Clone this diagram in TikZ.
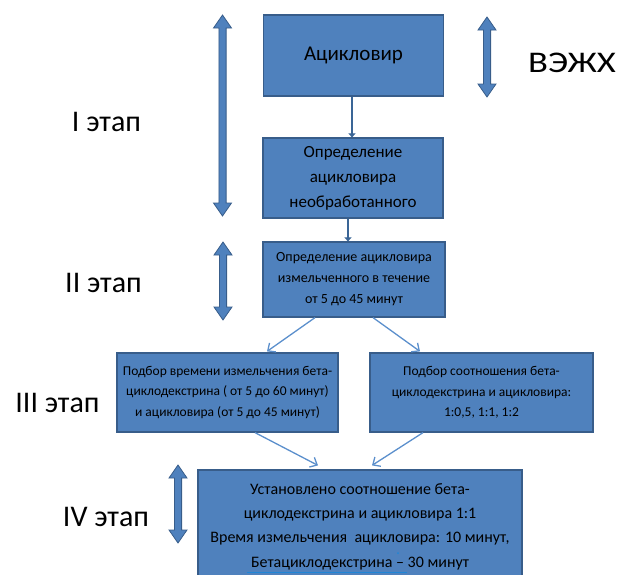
\documentclass[tikz,border=0pt]{standalone}
\usepackage{fontspec}
\setmainfont{Carlito}
\usetikzlibrary{arrows.meta}
\definecolor{boxfill}{HTML}{4F81BD}
\definecolor{boxline}{HTML}{385D8A}
\definecolor{stemblue}{HTML}{3A6596}
\definecolor{linkblue}{HTML}{5B8FCC}
\definecolor{markblue}{HTML}{1F86D6}
\tikzset{
  stagebox/.style={draw=boxline, line width=1.2pt, fill=boxfill, align=center,
    text=black, inner sep=2pt},
  stagelabel/.style={font=\fontsize{30}{36}\selectfont, text=black},
  dblarrow/.style={fill=boxfill, draw=boxline, line width=0.8pt, line join=miter},
  stem/.style={draw=stemblue, line width=2.6pt, -{Triangle[length=4pt,width=7pt]}},
  link/.style={draw=linkblue, line width=1.3pt, -{Straight Barb[length=6pt,width=11pt]}}
}
% vertical double-headed block arrow: x, top y, bottom y
\newcommand\vdarrow[3]{%
  \filldraw[dblarrow] (#1,#2) -- (#1+9,#2+13) -- (#1+3.6,#2+13) -- (#1+3.6,#3-13)
    -- (#1+9,#3-13) -- (#1,#3) -- (#1-9,#3-13) -- (#1-3.6,#3-13)
    -- (#1-3.6,#2+13) -- (#1-9,#2+13) -- cycle;}
\begin{document}
\begin{tikzpicture}[x=1pt,y=-1pt]
\useasboundingbox (0,0) rectangle (618,574);
\clip (0,0) rectangle (618,574);

% process boxes
\node[stagebox, minimum width=180pt, minimum height=81pt,
  font=\fontsize{21}{25}\selectfont] (acv) at (353.5,55.5) {Ацикловир};
\node[stagebox, minimum width=180pt, minimum height=80pt,
  font=\fontsize{17}{25}\selectfont] (raw) at (353,178)
  {Определение\\ацикловира\\необработанного};
\node[stagebox, minimum width=182pt, minimum height=75pt,
  font=\fontsize{14}{21}\selectfont] (milled) at (354,279.5)
  {Определение ацикловира\\измельченного в течение\\от 5 до 45 минут};
\node[stagebox, minimum width=221pt, minimum height=79pt,
  font=\fontsize{13.5}{20.5}\selectfont] (time) at (227.5,392.5)
  {Подбор времени измельчения бета-\\циклодекстрина ( от 5 до 60 минут)\\и ацикловира (от 5 до 45 минут)};
\node[stagebox, minimum width=223pt, minimum height=79pt,
  font=\fontsize{13.5}{20.5}\selectfont] (ratio) at (481.5,392.5)
  {Подбор соотношения бета-\\циклодекстрина и ацикловира:\\1:0,5, 1:1, 1:2};
\node[stagebox, minimum width=324pt, minimum height=113pt,
  font=\fontsize{16}{24.3}\selectfont] (result) at (360,526.5)
  {Установлено соотношение бета-\\циклодекстрина и ацикловира 1:1\\Время измельчения~ ацикловира: 10 минут,\\Бетациклодекстрина – 30 минут};

% spell-check marks under the last line
\draw[markblue, line width=1.6pt] (247,572.5) -- (407,572.5);
\fill[markblue] (398,553) circle (1pt);

% connectors
\draw[stem] ([xshift=-1.5pt]acv.south) -- ([xshift=-1pt]raw.north);
\draw[stem] ([xshift=-5pt]raw.south) -- ([xshift=-6pt]milled.north);
\draw[link] ([xshift=-39pt]milled.south) -- ([xshift=39.5pt,yshift=1pt]time.north);
\draw[link] ([xshift=19pt]milled.south) -- ([xshift=-61.5pt,yshift=1pt]ratio.north);
\draw[link] ([xshift=27.5pt]time.south) -- ([xshift=-42pt,yshift=4pt]result.north);
\draw[link] ([xshift=-58.5pt]ratio.south) -- ([xshift=12pt,yshift=4pt]result.north);

% stage spans
\vdarrow{222.5}{15}{216}
\vdarrow{223}{242}{320}
\vdarrow{487}{17}{97}
\vdarrow{178}{465}{543}

% stage labels
\node[stagelabel] (s1) at (106.5,122) {I этап};
\node[stagelabel] (s2) at (103.5,283) {II этап};
\node[stagelabel] (s3) at (57.5,403) {III этап};
\node[stagelabel] (s4) at (106,517) {IV этап};
\node[stagelabel, xscale=1.22] (hplc) at (572,63) {ВЭЖХ};
\end{tikzpicture}
\end{document}
